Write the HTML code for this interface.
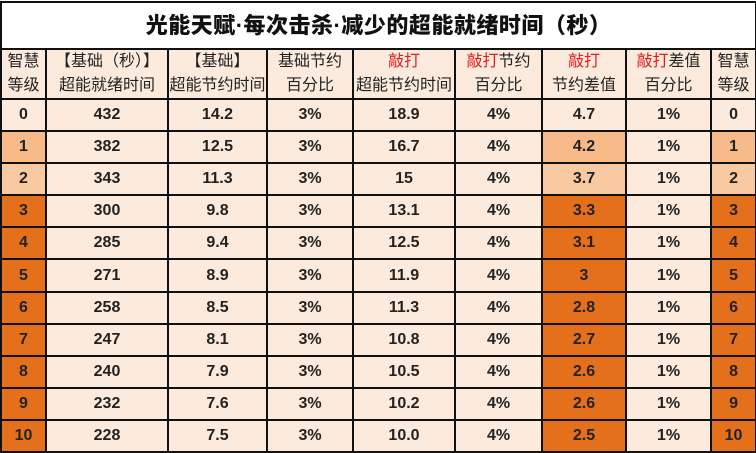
<!DOCTYPE html>
<html><head><meta charset="utf-8"><style>
html,body{margin:0;padding:0;background:#fff;}
body{width:756px;height:453px;overflow:hidden;font-family:"Liberation Sans","Noto Sans CJK SC",sans-serif;}
table{border-collapse:collapse;table-layout:fixed;width:755px;position:absolute;left:0px;top:1px;}
td{border:2px solid #111;text-align:center;padding:0;color:#222;font-weight:bold;background:#fcebdc;font-size:16px;line-height:1;}
td.t{background:#fff;font-size:22px;font-weight:900;color:#111;height:45px;letter-spacing:0.5px;}
tr.h td{font-size:16px;font-weight:normal;line-height:24px;height:48px;color:#222;}
tr.d td{height:30.1px;}
.r{color:#e02020;}
.l1{background:#f7bb89 !important;}
.l2{background:#f9c9a1 !important;}
.o{background:#e4701b !important;}
</style></head><body>
<table>
<colgroup><col style="width:45px"><col style="width:122px"><col style="width:99px"><col style="width:86px"><col style="width:102px"><col style="width:87px"><col style="width:84px"><col style="width:85px"><col style="width:45px"></colgroup>
<tr><td class="t" colspan="9">光能天赋·每次击杀·减少的超能就绪时间（秒）</td></tr>
<tr class="h"><td>智慧<br>等级</td><td>【基础（秒）】<br>超能就绪时间</td><td>【基础】<br>超能节约时间</td><td>基础节约<br>百分比</td><td><span class="r">敲打</span><br>超能节约时间</td><td><span class="r">敲打</span>节约<br>百分比</td><td><span class="r">敲打</span><br>节约差值</td><td><span class="r">敲打</span>差值<br>百分比</td><td>智慧<br>等级</td></tr>
<tr class="d"><td>0</td><td>432</td><td>14.2</td><td>3%</td><td>18.9</td><td>4%</td><td>4.7</td><td>1%</td><td>0</td></tr>
<tr class="d"><td class="l1">1</td><td>382</td><td>12.5</td><td>3%</td><td>16.7</td><td>4%</td><td class="l1">4.2</td><td>1%</td><td class="l1">1</td></tr>
<tr class="d"><td class="l2">2</td><td>343</td><td>11.3</td><td>3%</td><td>15</td><td>4%</td><td class="l2">3.7</td><td>1%</td><td class="l2">2</td></tr>
<tr class="d"><td class="o">3</td><td>300</td><td>9.8</td><td>3%</td><td>13.1</td><td>4%</td><td class="o">3.3</td><td>1%</td><td class="o">3</td></tr>
<tr class="d"><td class="o">4</td><td>285</td><td>9.4</td><td>3%</td><td>12.5</td><td>4%</td><td class="o">3.1</td><td>1%</td><td class="o">4</td></tr>
<tr class="d"><td class="o">5</td><td>271</td><td>8.9</td><td>3%</td><td>11.9</td><td>4%</td><td class="o">3</td><td>1%</td><td class="o">5</td></tr>
<tr class="d"><td class="o">6</td><td>258</td><td>8.5</td><td>3%</td><td>11.3</td><td>4%</td><td class="o">2.8</td><td>1%</td><td class="o">6</td></tr>
<tr class="d"><td class="o">7</td><td>247</td><td>8.1</td><td>3%</td><td>10.8</td><td>4%</td><td class="o">2.7</td><td>1%</td><td class="o">7</td></tr>
<tr class="d"><td class="o">8</td><td>240</td><td>7.9</td><td>3%</td><td>10.5</td><td>4%</td><td class="o">2.6</td><td>1%</td><td class="o">8</td></tr>
<tr class="d"><td class="o">9</td><td>232</td><td>7.6</td><td>3%</td><td>10.2</td><td>4%</td><td class="o">2.6</td><td>1%</td><td class="o">9</td></tr>
<tr class="d"><td class="o">10</td><td>228</td><td>7.5</td><td>3%</td><td>10.0</td><td>4%</td><td class="o">2.5</td><td>1%</td><td class="o">10</td></tr>
</table>
</body></html>
